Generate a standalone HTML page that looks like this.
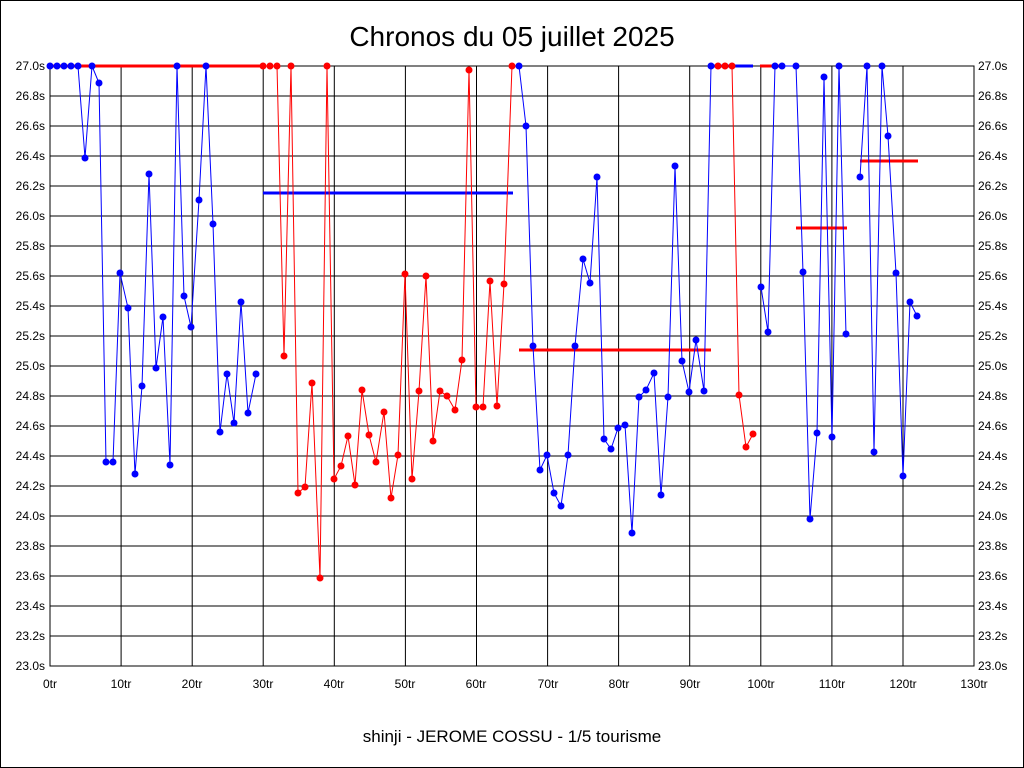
<!DOCTYPE html>
<html><head><meta charset="utf-8"><style>
html,body{margin:0;padding:0;background:#fff}
svg{display:block}
text{font-family:"Liberation Sans",sans-serif}
</style></head><body>
<svg width="1024" height="768" viewBox="0 0 1024 768" xmlns="http://www.w3.org/2000/svg">
<rect x="0.5" y="0.5" width="1023" height="767" fill="#fff" stroke="#000"/>
<text x="512" y="46" font-size="28" text-anchor="middle">Chronos du 05 juillet 2025</text>
<text x="512" y="742" font-size="17" text-anchor="middle">shinji - JEROME COSSU - 1/5 tourisme</text>
<g stroke="#000" stroke-width="1">
<rect x="50" y="66" width="924" height="600" fill="none"/>
<path d="M121.1 66V666M192.2 66V666M263.2 66V666M334.3 66V666M405.4 66V666M476.5 66V666M547.6 66V666M618.6 66V666M689.7 66V666M760.8 66V666M831.9 66V666M903 66V666"/>
<path d="M50 96H974M50 126H974M50 156H974M50 186H974M50 216H974M50 246H974M50 276H974M50 306H974M50 336H974M50 366H974M50 396H974M50 426H974M50 456H974M50 486H974M50 516H974M50 546H974M50 576H974M50 606H974M50 636H974"/>
</g>
<g font-size="12" text-anchor="end">
<text x="45" y="70">27.0s</text><text x="45" y="100">26.8s</text><text x="45" y="130">26.6s</text><text x="45" y="160">26.4s</text><text x="45" y="190">26.2s</text><text x="45" y="220">26.0s</text><text x="45" y="250">25.8s</text><text x="45" y="280">25.6s</text><text x="45" y="310">25.4s</text><text x="45" y="340">25.2s</text><text x="45" y="370">25.0s</text><text x="45" y="400">24.8s</text><text x="45" y="430">24.6s</text><text x="45" y="460">24.4s</text><text x="45" y="490">24.2s</text><text x="45" y="520">24.0s</text><text x="45" y="550">23.8s</text><text x="45" y="580">23.6s</text><text x="45" y="610">23.4s</text><text x="45" y="640">23.2s</text><text x="45" y="670">23.0s</text>
</g>
<g font-size="12">
<text x="978" y="70">27.0s</text><text x="978" y="100">26.8s</text><text x="978" y="130">26.6s</text><text x="978" y="160">26.4s</text><text x="978" y="190">26.2s</text><text x="978" y="220">26.0s</text><text x="978" y="250">25.8s</text><text x="978" y="280">25.6s</text><text x="978" y="310">25.4s</text><text x="978" y="340">25.2s</text><text x="978" y="370">25.0s</text><text x="978" y="400">24.8s</text><text x="978" y="430">24.6s</text><text x="978" y="460">24.4s</text><text x="978" y="490">24.2s</text><text x="978" y="520">24.0s</text><text x="978" y="550">23.8s</text><text x="978" y="580">23.6s</text><text x="978" y="610">23.4s</text><text x="978" y="640">23.2s</text><text x="978" y="670">23.0s</text>
</g>
<g font-size="12" text-anchor="middle">
<text x="50" y="688">0tr</text><text x="121" y="688">10tr</text><text x="192" y="688">20tr</text><text x="263" y="688">30tr</text><text x="334" y="688">40tr</text><text x="405" y="688">50tr</text><text x="476" y="688">60tr</text><text x="548" y="688">70tr</text><text x="619" y="688">80tr</text><text x="690" y="688">90tr</text><text x="761" y="688">100tr</text><text x="832" y="688">110tr</text><text x="903" y="688">120tr</text><text x="974" y="688">130tr</text>
</g>
<!-- thick lines -->
<g stroke-width="3">
<path d="M50 66H263" stroke="#f00"/>
<path d="M263 193H513" stroke="#00f"/>
<path d="M519 350H711" stroke="#f00"/>
<path d="M711 66H753" stroke="#00f"/>
<path d="M760 66H783" stroke="#f00"/>
<path d="M796 228H847" stroke="#f00"/>
<path d="M860 161H918" stroke="#f00"/>
</g>
<g fill="none" stroke-width="1">
<polyline stroke="#00f" points="50,66 57,66 64,66 71,66 78,66 85,158 92,66 99,83 106,462 113,462 120,273 128,308 135,474 142,386 149,174 156,368 163,317 170,465 177,66 184,296 191,327 199,200 206,66 213,224 220,432 227,374 234,423 241,302 248,413 256,374"/>
<polyline stroke="#f00" points="263,66 270,66 277,66 284,356 291,66 298,493 305,487 312,383 320,578 327,66 334,479 341,466 348,436 355,485 362,390 369,435 376,462 384,412 391,498 398,455 405,274 412,479 419,391 426,276 433,441 440,391 447,396 455,410 462,360 469,70 476,407 483,407 490,281 497,406 504,284 512,66"/>
<polyline stroke="#00f" points="519,66 526,126 533,346 540,470 547,455 554,493 561,506 568,455 575,346 583,259 590,283 597,177 604,439 611,449 618,428 625,425 632,533 639,397 646,390 654,373 661,495 668,397 675,166 682,361 689,392 696,340 704,391 711,66"/>
<polyline stroke="#f00" points="718,66 725,66 732,66 739,395 746,447 753,434"/>
<polyline stroke="#00f" points="761,287 768,332 775,66 782,66 796,66 803,272 810,519 817,433 824,77 832,437 839,66 846,334"/>
<polyline stroke="#00f" points="860,177 867,66 874,452 882,66 888,136 896,273 903,476 910,302 917,316"/>
</g>
<g fill="#00f">
<circle cx="50" cy="66" r="3.5"/><circle cx="57" cy="66" r="3.5"/><circle cx="64" cy="66" r="3.5"/><circle cx="71" cy="66" r="3.5"/><circle cx="78" cy="66" r="3.5"/><circle cx="85" cy="158" r="3.5"/><circle cx="92" cy="66" r="3.5"/><circle cx="99" cy="83" r="3.5"/><circle cx="106" cy="462" r="3.5"/><circle cx="113" cy="462" r="3.5"/><circle cx="120" cy="273" r="3.5"/><circle cx="128" cy="308" r="3.5"/><circle cx="135" cy="474" r="3.5"/><circle cx="142" cy="386" r="3.5"/><circle cx="149" cy="174" r="3.5"/><circle cx="156" cy="368" r="3.5"/><circle cx="163" cy="317" r="3.5"/><circle cx="170" cy="465" r="3.5"/><circle cx="177" cy="66" r="3.5"/><circle cx="184" cy="296" r="3.5"/><circle cx="191" cy="327" r="3.5"/><circle cx="199" cy="200" r="3.5"/><circle cx="206" cy="66" r="3.5"/><circle cx="213" cy="224" r="3.5"/><circle cx="220" cy="432" r="3.5"/><circle cx="227" cy="374" r="3.5"/><circle cx="234" cy="423" r="3.5"/><circle cx="241" cy="302" r="3.5"/><circle cx="248" cy="413" r="3.5"/><circle cx="256" cy="374" r="3.5"/>
<circle cx="519" cy="66" r="3.5"/><circle cx="526" cy="126" r="3.5"/><circle cx="533" cy="346" r="3.5"/><circle cx="540" cy="470" r="3.5"/><circle cx="547" cy="455" r="3.5"/><circle cx="554" cy="493" r="3.5"/><circle cx="561" cy="506" r="3.5"/><circle cx="568" cy="455" r="3.5"/><circle cx="575" cy="346" r="3.5"/><circle cx="583" cy="259" r="3.5"/><circle cx="590" cy="283" r="3.5"/><circle cx="597" cy="177" r="3.5"/><circle cx="604" cy="439" r="3.5"/><circle cx="611" cy="449" r="3.5"/><circle cx="618" cy="428" r="3.5"/><circle cx="625" cy="425" r="3.5"/><circle cx="632" cy="533" r="3.5"/><circle cx="639" cy="397" r="3.5"/><circle cx="646" cy="390" r="3.5"/><circle cx="654" cy="373" r="3.5"/><circle cx="661" cy="495" r="3.5"/><circle cx="668" cy="397" r="3.5"/><circle cx="675" cy="166" r="3.5"/><circle cx="682" cy="361" r="3.5"/><circle cx="689" cy="392" r="3.5"/><circle cx="696" cy="340" r="3.5"/><circle cx="704" cy="391" r="3.5"/><circle cx="711" cy="66" r="3.5"/>
<circle cx="761" cy="287" r="3.5"/><circle cx="768" cy="332" r="3.5"/><circle cx="775" cy="66" r="3.5"/><circle cx="782" cy="66" r="3.5"/><circle cx="796" cy="66" r="3.5"/><circle cx="803" cy="272" r="3.5"/><circle cx="810" cy="519" r="3.5"/><circle cx="817" cy="433" r="3.5"/><circle cx="824" cy="77" r="3.5"/><circle cx="832" cy="437" r="3.5"/><circle cx="839" cy="66" r="3.5"/><circle cx="846" cy="334" r="3.5"/>
<circle cx="860" cy="177" r="3.5"/><circle cx="867" cy="66" r="3.5"/><circle cx="874" cy="452" r="3.5"/><circle cx="882" cy="66" r="3.5"/><circle cx="888" cy="136" r="3.5"/><circle cx="896" cy="273" r="3.5"/><circle cx="903" cy="476" r="3.5"/><circle cx="910" cy="302" r="3.5"/><circle cx="917" cy="316" r="3.5"/>
</g>
<g fill="#f00">
<circle cx="263" cy="66" r="3.5"/><circle cx="270" cy="66" r="3.5"/><circle cx="277" cy="66" r="3.5"/><circle cx="284" cy="356" r="3.5"/><circle cx="291" cy="66" r="3.5"/><circle cx="298" cy="493" r="3.5"/><circle cx="305" cy="487" r="3.5"/><circle cx="312" cy="383" r="3.5"/><circle cx="320" cy="578" r="3.5"/><circle cx="327" cy="66" r="3.5"/><circle cx="334" cy="479" r="3.5"/><circle cx="341" cy="466" r="3.5"/><circle cx="348" cy="436" r="3.5"/><circle cx="355" cy="485" r="3.5"/><circle cx="362" cy="390" r="3.5"/><circle cx="369" cy="435" r="3.5"/><circle cx="376" cy="462" r="3.5"/><circle cx="384" cy="412" r="3.5"/><circle cx="391" cy="498" r="3.5"/><circle cx="398" cy="455" r="3.5"/><circle cx="405" cy="274" r="3.5"/><circle cx="412" cy="479" r="3.5"/><circle cx="419" cy="391" r="3.5"/><circle cx="426" cy="276" r="3.5"/><circle cx="433" cy="441" r="3.5"/><circle cx="440" cy="391" r="3.5"/><circle cx="447" cy="396" r="3.5"/><circle cx="455" cy="410" r="3.5"/><circle cx="462" cy="360" r="3.5"/><circle cx="469" cy="70" r="3.5"/><circle cx="476" cy="407" r="3.5"/><circle cx="483" cy="407" r="3.5"/><circle cx="490" cy="281" r="3.5"/><circle cx="497" cy="406" r="3.5"/><circle cx="504" cy="284" r="3.5"/><circle cx="512" cy="66" r="3.5"/>
<circle cx="718" cy="66" r="3.5"/><circle cx="725" cy="66" r="3.5"/><circle cx="732" cy="66" r="3.5"/><circle cx="739" cy="395" r="3.5"/><circle cx="746" cy="447" r="3.5"/><circle cx="753" cy="434" r="3.5"/>
</g>
</svg>
</body></html>
